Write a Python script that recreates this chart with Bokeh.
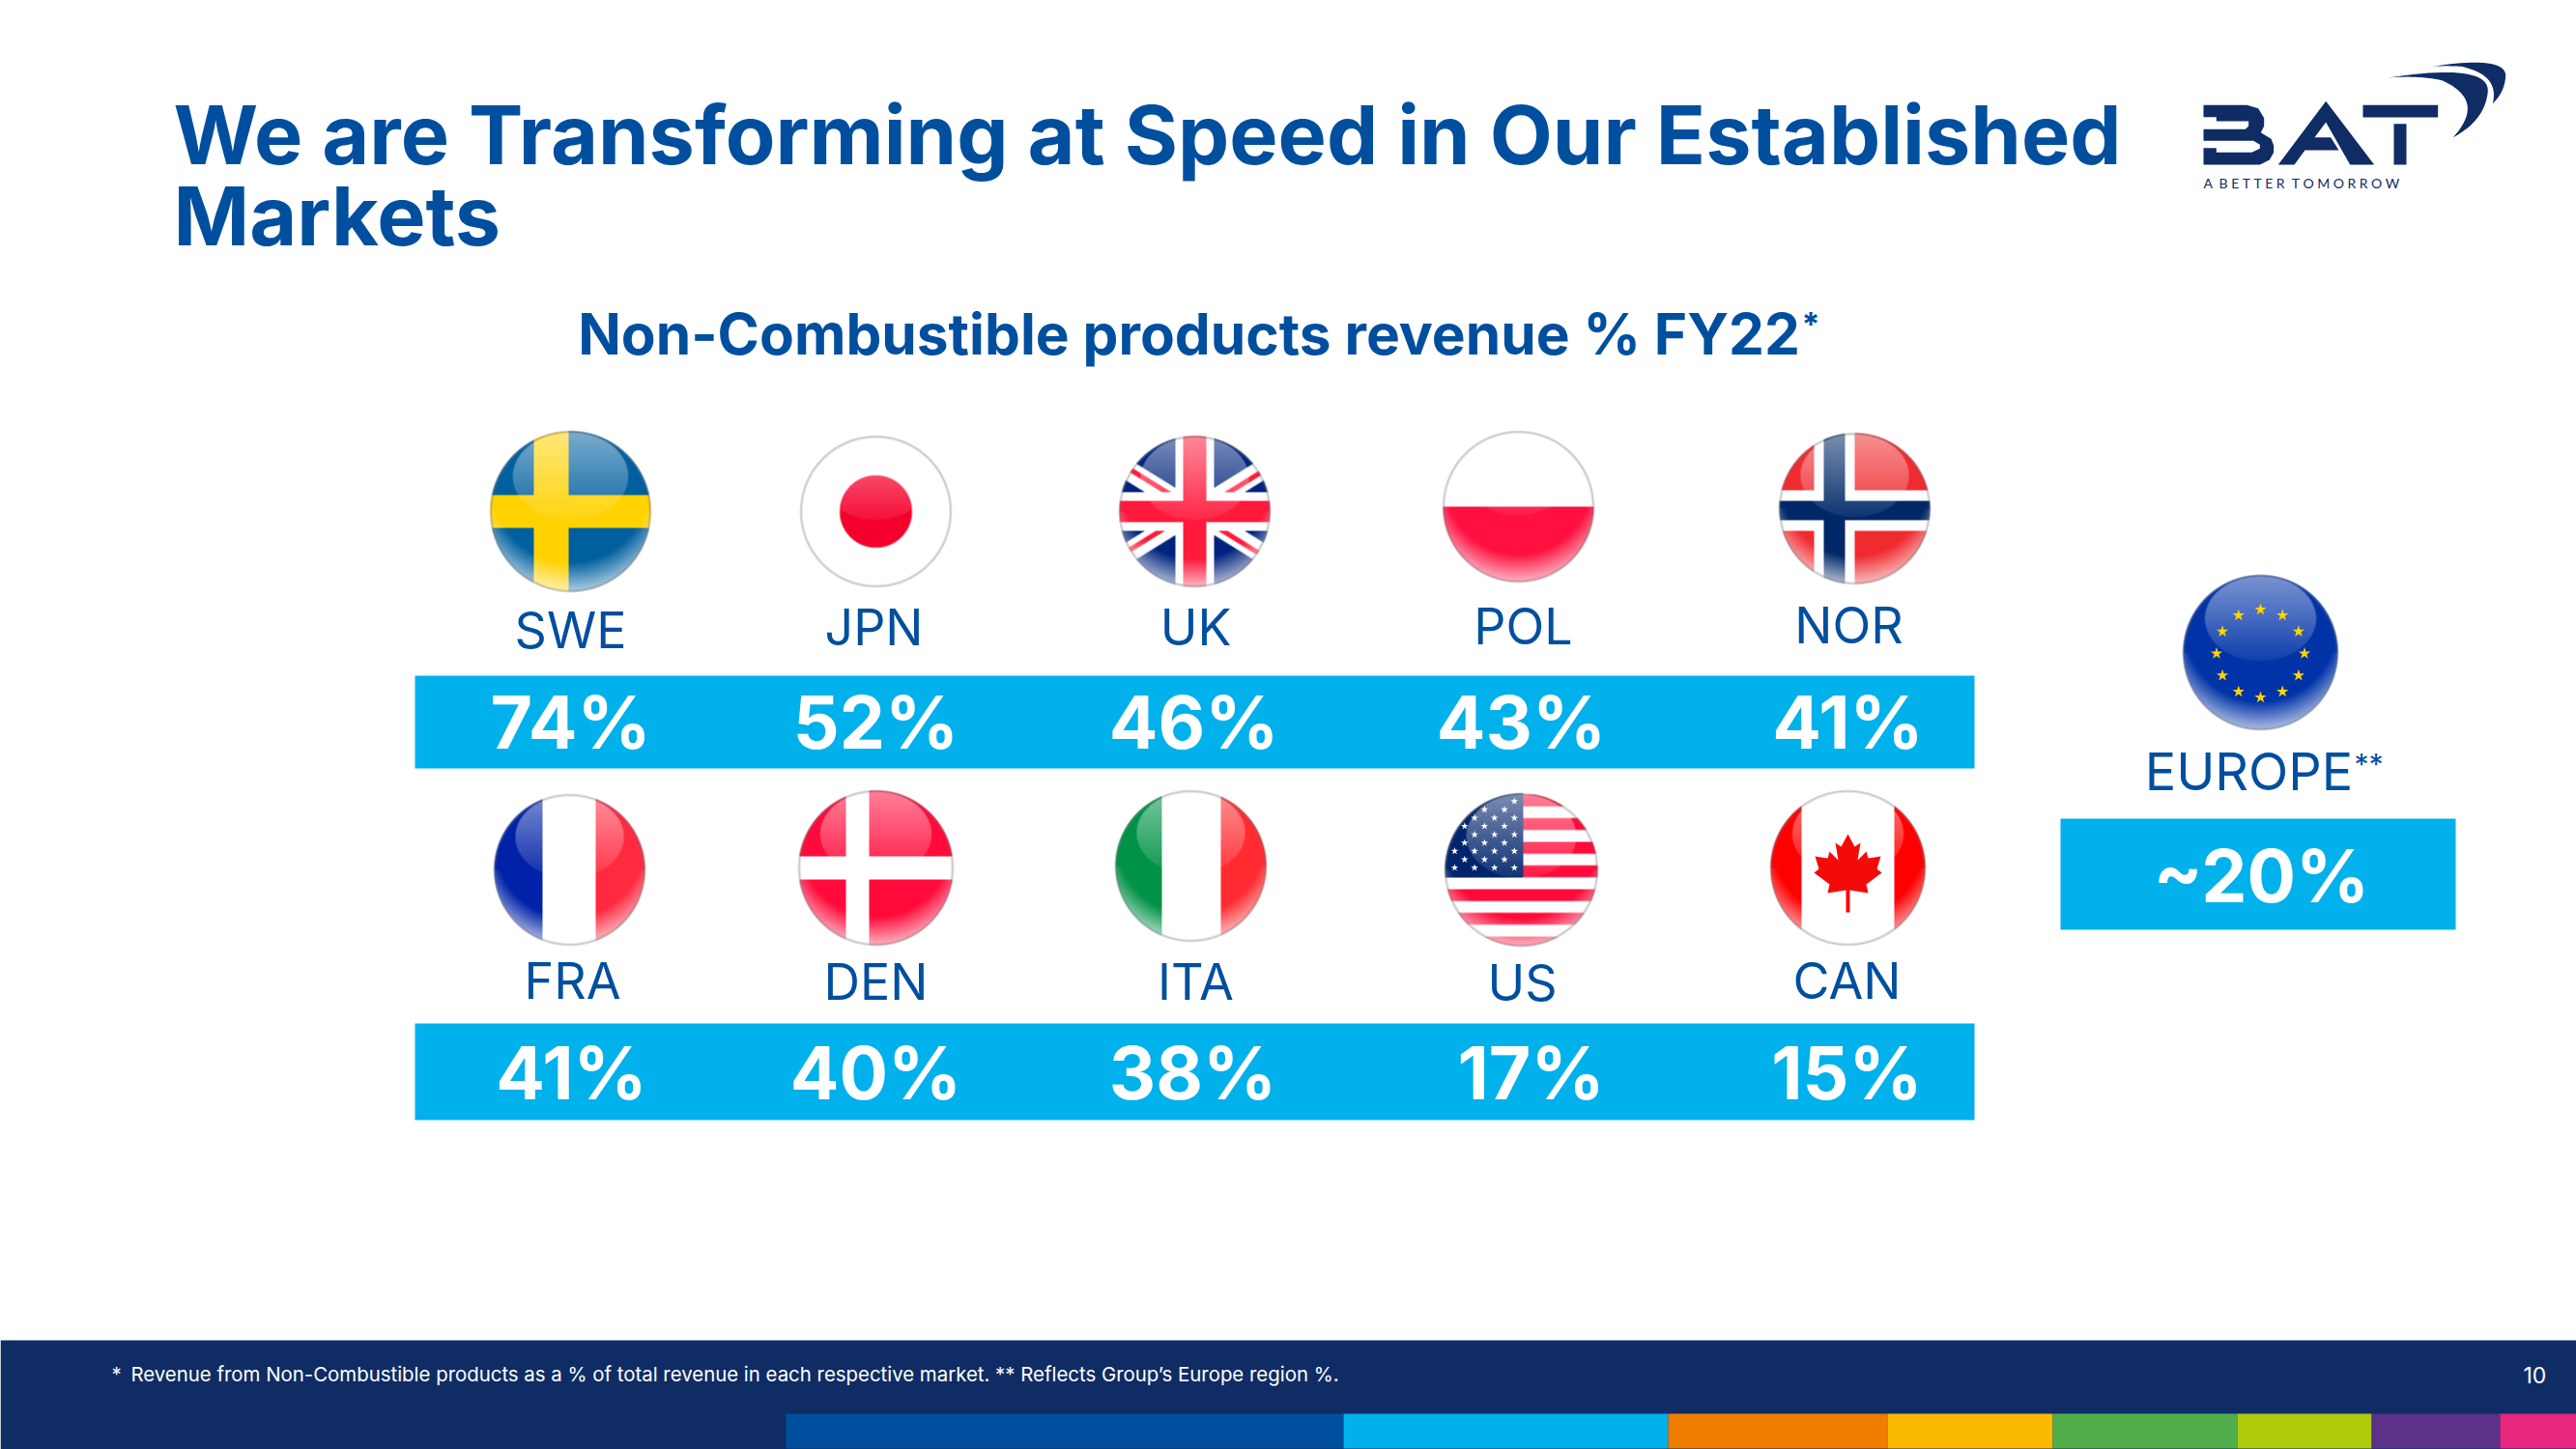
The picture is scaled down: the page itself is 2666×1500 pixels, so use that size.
import numpy as np
from bokeh.core.properties import value
from bokeh.embed import file_html
from bokeh.models import Range1d
from bokeh.plotting import figure
from bokeh.resources import INLINE

# ---- data ----
ROW1_CODES = ["SWE", "JPN", "UK", "POL", "NOR"]
ROW1_SHARES = [74, 52, 46, 43, 41]
ROW2_CODES = ["FRA", "DEN", "ITA", "US", "CAN"]
ROW2_SHARES = [41, 40, 38, 17, 15]
EUROPE_LABEL = "EUROPE"
EUROPE_SHARE = "~20%"
TITLE_LINES = ["We are Transforming at Speed in Our Established", "Markets"]
SUBTITLE = "Non-Combustible products revenue % FY22"
FOOTNOTE = "Revenue from Non-Combustible products as a % of total revenue in each respective market. ** Reflects Group\u2019s Europe region %."
PAGE_NO = "10"
_G = "\u2009\u2009"
LOGO_TAG = "A\u00a0" + _G + _G.join("BETTER") + "\u00a0" + _G + _G.join("TOMORROW")

# ---- layout, in reference pixels ----
BLUE, CYAN, NAVY = "#004F9F", "#00B1EB", "#0F2C65"
FONT = "Inter"
W, H = 2666, 1500
BASE_SHIFT = 0.37   # svg text sits this many ems under the requested baseline
def Y(y):
    return H - np.asarray(y, dtype=float)

ROW1_LABEL_X = [590, 904, 1237, 1576, 1913]
ROW1_LABEL_Y = [671, 668, 668, 667, 666]
ROW1_VALUE_X = [590, 906, 1235, 1574, 1912]
ROW2_LABEL_X = [592, 906, 1237, 1575, 1911]
ROW2_LABEL_Y = [1034, 1035, 1035, 1036, 1034]
ROW2_VALUE_X = [591, 906, 1234, 1584, 1911]
FLAGS = [("SWE", 590, 529, 83), ("JPN", 906, 529, 78), ("UK", 1236, 529, 78), ("POL", 1571, 524, 78),
         ("NOR", 1919, 526, 78), ("FRA", 589, 900, 78), ("DEN", 906, 898, 80), ("ITA", 1232, 896, 78),
         ("US", 1574, 900, 79), ("CAN", 1912, 898, 80), ("EU", 2339, 675, 80)]
STRIP = [(813, 1390, "#004F9F"), (1390, 1726, "#00B1EB"), (1726, 1953, "#EF7D00"), (1953, 2124, "#FBBA00"),
         (2124, 2315, "#52AE4A"), (2315, 2454, "#AFCA0B"), (2454, 2587, "#5B3288"), (2587, 2666, "#E6267F")]

p = figure(width=W, height=H, output_backend="svg", toolbar_location=None,
           x_range=Range1d(0, W), y_range=Range1d(0, H), min_border=0,
           background_fill_color="white", border_fill_color="white", outline_line_color=None)
p.axis.visible = False
p.grid.visible = False


def rgb(h):
    return np.array([int(h[i:i + 2], 16) for i in (1, 3, 5)], dtype=float)


def paint(code, x, y, r):
    img = np.ones(x.shape + (3,)) * 255.0
    def put(mask, col):
        img[mask] = rgb(col)
    if code == "SWE":
        put(np.ones_like(x, bool), "#00609F")
        put((x > -38) & (x < -2) | (np.abs(y) < 17), "#FFD200")
    elif code == "JPN":
        put(x * x + y * y < 37.5 ** 2, "#F5002D")
    elif code == "UK":
        put(np.ones_like(x, bool), "#00247D")
        d = np.abs(np.abs(y) - 0.62 * np.abs(x))
        put(d < 12, "#FFFFFF")
        put((np.abs(y) - 0.62 * np.abs(x) > -1) & (d < 5) & (x * y > 0) | (np.abs(y) - 0.62 * np.abs(x) < 1) & (d < 5) & (x * y < 0), "#FF1A3C")
        put((np.abs(x) < 20) | (np.abs(y) < 20), "#FFFFFF")
        put((np.abs(x) < 12) | (np.abs(y) < 11), "#FF1A3C")
    elif code == "POL":
        put(y > 0, "#FF1040")
    elif code == "NOR":
        put(np.ones_like(x, bool), "#F02B30")
        put((np.abs(x + 21) < 21) | (np.abs(y - 2) < 21), "#FFFFFF")
        put((np.abs(x + 21) < 11) | (np.abs(y - 2) < 10), "#002868")
    elif code == "FRA":
        put(x < -28, "#0022A8")
        put(x > 27, "#FF2A40")
    elif code == "DEN":
        put(np.ones_like(x, bool), "#FF0A3A")
        put((np.abs(x + 19) < 12) | (np.abs(y) < 12), "#FFFFFF")
    elif code == "ITA":
        put(x < -30, "#009246")
        put(x > 31, "#FF2B30")
    elif code == "US":
        put((((y + 78) % 24.5) < 12.2), "#FF0A3A")
        put((x < 2) & (y < 8), "#00246B")
    elif code == "CAN":
        put(np.abs(x) > 48, "#FF0000")
    elif code == "EU":
        put(np.ones_like(x, bool), "#0033A8")
    return img


def flag_image(code, r):
    ss = 3
    n = 2 * r + 6
    a = (np.arange(n * ss) + 0.5) / ss - n / 2
    x, y = np.meshgrid(a, a)
    img = paint(code, x, y, r)
    rho = np.hypot(x, y)
    white = np.array([255.0, 255.0, 255.0])
    def blend(alpha, col=white):
        nonlocal img
        img = img * (1 - alpha[..., None]) + col * alpha[..., None]
    # upper gloss ellipse
    ey = y + 0.44 * r
    inside = (x / (0.72 * r)) ** 2 + (ey / (0.55 * r)) ** 2 < 1
    grad = np.clip(1 - (y + r) / (1.12 * r), 0, 1)
    blend(inside * (0.06 + 0.42 * grad))
    # lower light crescent
    blend(np.clip((np.hypot(x, y + 0.35 * r) - 0.98 * r) / (0.35 * r), 0, 1) * (y > 0) * 0.65)
    # rim
    rim = np.clip((rho - (r - 2.5)) / 2.5, 0, 1) * 0.55
    blend(rim, np.array([120.0, 120.0, 125.0]))
    alpha = np.clip((r + 0.5 - rho) * ss, 0, 1)
    # downsample
    rgba = np.dstack([img, alpha * 255])
    rgba[..., :3] *= alpha[..., None]
    rgba = rgba.reshape(n, ss, n, ss, 4).mean(axis=(1, 3))
    ah = np.maximum(rgba[..., 3:], 1e-3)
    rgba[..., :3] = rgba[..., :3] / ah * 255
    rgba = np.clip(rgba, 0, 255).astype(np.uint8)[::-1]
    out = np.empty((n, n), dtype=np.uint32)
    out.view(dtype=np.uint8).reshape(n, n, 4)[:] = rgba
    return out, n


# ---- background bands ----
p.quad(left=[0], right=[W], bottom=Y([H]), top=Y([1387]), fill_color=NAVY, line_color=None)
p.quad(left=[s[0] for s in STRIP], right=[s[1] for s in STRIP], bottom=Y([1499] * len(STRIP)),
       top=Y([1463] * len(STRIP)), fill_color=[s[2] for s in STRIP], line_color=None)
p.quad(left=[429, 429, 2132], right=[2043, 2043, 2541], top=Y([699, 1059, 847]), bottom=Y([795, 1159, 962]),
       fill_color=CYAN, line_color=None)

# ---- flags ----
for code, cx, cy, r in FLAGS:
    im, n = flag_image(code, r)
    p.image_rgba(image=[im], x=[cx - n / 2], y=[float(Y(cy)) - n / 2], dw=[n], dh=[n])

# US stars
sx, sy = [], []
for j in range(9):
    yy = 829 + j * 8.6
    for i in range(7):
        xx = 1505 + i * 20.6 + (10.3 if j % 2 else 0)
        if xx < 1573 and np.hypot(xx - 1574, yy - 900) < 75:
            sx.append(xx)
            sy.append(yy)
p.scatter(sx, Y(sy), marker="star", size=8, fill_color="white", line_color=None)

# EU stars
ang = np.arange(12) * np.pi / 6
p.scatter(2339 + 45.5 * np.sin(ang), Y(676 - 45.5 * np.cos(ang)), marker="star", size=13,
          fill_color="#FFD500", line_color=None)

# Maple leaf
half = [(0, 0), (7, 13), (13, 9), (10, 27), (19, 18), (21, 25), (34, 23), (30, 36), (35, 40), (19, 52), (21, 61), (2, 58), (2, 81)]
lx = [h[0] for h in half] + [-h[0] for h in half[::-1]]
ly = [h[1] for h in half] + [h[1] for h in half[::-1]]
p.patch(1912 + np.array(lx), Y(863 + np.array(ly)), fill_color="#F50A0A", line_color=None)


# ---- texts ----
def txt(x, y, s, size, color=BLUE, bold=False, align="center", font=FONT):
    p.text(x=list(x), y=list(Y(np.asarray(y, dtype=float) - BASE_SHIFT * size)), text=list(s), text_font=value(font),
           text_font_size=f"{size}px", text_font_style="bold" if bold else "normal", text_color=color,
           text_align=align, text_baseline="alphabetic")


txt([179], [170], TITLE_LINES[:1], 84.5, bold=True, align="left")
txt([179], [254], TITLE_LINES[1:], 84.5, bold=True, align="left")
txt([1230], [367], [SUBTITLE], 58.6, bold=True)
txt([1864], [348], ["*"], 34, bold=True, align="left")

txt(ROW1_LABEL_X, ROW1_LABEL_Y, ROW1_CODES, 52)
txt(ROW2_LABEL_X, ROW2_LABEL_Y, ROW2_CODES, 52)
txt(ROW1_VALUE_X, [775] * 5, [f"{v}%" for v in ROW1_SHARES], 75, color="white", bold=True)
txt(ROW2_VALUE_X, [1138] * 5, [f"{v}%" for v in ROW2_SHARES], 75, color="white", bold=True)
txt([2327], [818], [EUROPE_LABEL], 54)
txt([2436], [802], ["**"], 30, align="left")
txt([2340], [934], [EUROPE_SHARE], 75, color="white", bold=True)

txt([115], [1430], ["*"], 20.4, color="white", align="left")
txt([135], [1430], [FOOTNOTE], 20.4, color="white", align="left")
txt([2611], [1432], [PAGE_NO], 23, color="white", align="left")

# ---- logo ----
def lg(pts):
    a = np.array(pts, dtype=float)
    return list(2150 + a[:, 0] / 3), list(Y(40 + a[:, 1] / 3))


def bez(p0, p1, p2, n=24):
    t = np.linspace(0, 1, n)[:, None]
    p0, p1, p2 = map(np.array, (p0, p1, p2))
    return ((1 - t) ** 2 * p0 + 2 * t * (1 - t) * p1 + t * t * p2).tolist()


shapes = [
    [(390, 205), (525, 205), (560, 215), (578, 245), (578, 270), (568, 290), (600, 310), (608, 330), (608, 352), (595, 375),
     (565, 390), (390, 390), (390, 338), (430, 338), (430, 352), (540, 352), (565, 340), (565, 328), (545, 316), (390, 316),
     (390, 280), (520, 280), (530, 270), (530, 255), (430, 255), (430, 242), (390, 242)],
    [(770, 193), (920, 390), (845, 390), (770, 258), (735, 305), (785, 305), (810, 345), (705, 345), (672, 390), (622, 390)],
    [(885, 205), (1118, 205), (1118, 243), (885, 243)],
    [(981, 263), (1020, 263), (1020, 390), (981, 390)],
    bez((962, 120), (1290, 70), (1272, 170)) + bez((1272, 170), (1260, 255), (1165, 305)) + bez((1165, 305), (1270, 190), (1130, 128)) + bez((1130, 128), (1060, 112), (962, 120)),
    bez((1100, 85), (1330, 50), (1328, 115)) + bez((1328, 115), (1325, 165), (1288, 200)) + bez((1288, 200), (1310, 110), (1190, 85)) + bez((1190, 85), (1140, 82), (1100, 85)),
]
for s in shapes:
    xs, ys = lg(s)
    p.patch(xs, ys, fill_color=NAVY, line_color=None)
txt([2280], [194], [LOGO_TAG], 14, color=NAVY, align="left", font="Lato")

open("out.html", "w").write(file_html(p, INLINE))
